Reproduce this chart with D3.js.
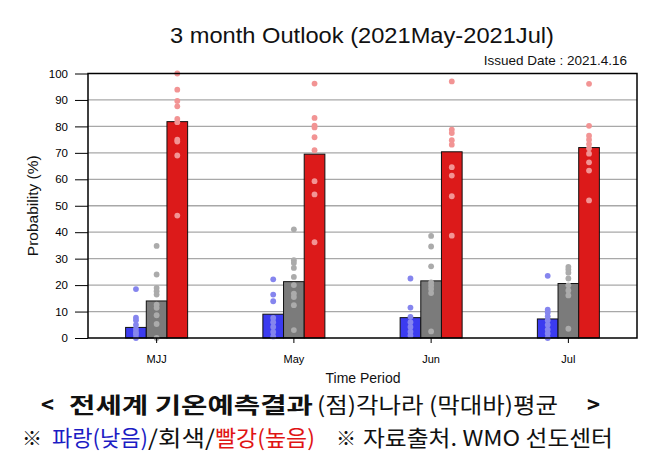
<!DOCTYPE html>
<html><head><meta charset="utf-8">
<script src="https://cdn.jsdelivr.net/npm/d3@7"></script>
<style>body{margin:0;background:#fff}svg{display:block}</style>
</head><body>
<svg id="c" width="658" height="463"></svg>
<script>
const categories = ["MJJ", "May", "Jun", "Jul"];
const terciles = ["below", "normal", "above"];
const belowMean = [4.0, 9.0, 7.7, 7.2];
const normalMean = [14.0, 21.3, 21.6, 20.6];
const aboveMean = [81.8, 69.5, 70.4, 72.0];
const belowDots = [
  [18.5, 7.7, 6.7, 5, 3.4, 2.2, 1.3, 0],
  [22.2, 16.4, 13.9, 7.6, 6, 4.2, 2.3, 0.6],
  [22.5, 11.5, 8, 6, 4.2, 2.4, 0.9],
  [23.5, 10.7, 9.6, 8.2, 6.7, 5, 3.2, 1.7, 0]
];
const normalDots = [
  [34.8, 24, 18.9, 17.7, 16.4, 12.6, 11.4, 8.6, 5.3, 0],
  [41.1, 29.4, 28.4, 26.5, 23.1, 20, 16.8, 15.5, 12.4, 3],
  [38.6, 34.6, 27.1, 21, 19.8, 18.5, 17, 2.5],
  [26.9, 25.9, 24.7, 22.5, 19.9, 18, 16.1, 3.5]
];
const aboveDots = [
  [100, 93.9, 89.6, 87.6, 82.8, 81.6, 75, 74.3, 69, 46.3],
  [96.2, 83.2, 80.3, 79.6, 75.9, 71, 59.3, 54.3, 36.2],
  [97, 78.8, 77.5, 74.8, 73.1, 64.6, 61.4, 53.6, 38.7],
  [96.1, 80.2, 76.5, 75, 73.3, 71.7, 69.7, 66.4, 63.3, 52]
];
const yTicks = [0, 10, 20, 30, 40, 50, 60, 70, 80, 90, 100];

const barColor = {below: "#3b3bf0", normal: "#7b7b7b", above: "#dc1a1a"};
const dotColor = {below: "#8585ee", normal: "#ababab", above: "#f29494"};
const means = {below: belowMean, normal: normalMean, above: aboveMean};
const dots = {below: belowDots, normal: normalDots, above: aboveDots};

const svg = d3.select("#c");
const L = 88, R = 637, T = 73.5, B = 338;
const x0 = d3.scaleBand().domain(categories).range([L, R]).padding(0);
const groupW = 62;
const x1 = d3.scaleBand().domain(terciles).range([0, groupW]).padding(0);
const y = d3.scaleLinear().domain([0, 100]).range([B, T]);
const cx = c => x0(c) + x0.bandwidth() / 2;

const font = "'Liberation Sans', Arial, Helvetica, sans-serif";
const kfont = "'Noto Sans CJK KR', sans-serif";

// grid
svg.append("g").selectAll("line").data(yTicks.filter(t => t > 0 && t < 100)).join("line")
  .attr("x1", L).attr("x2", R).attr("y1", d => y(d)).attr("y2", d => y(d))
  .attr("stroke", "#a8a8a8").attr("stroke-width", 1.3);

// bars
const rows = [];
categories.forEach((c, i) => terciles.forEach(t => rows.push({c, t, v: means[t][i], i})));
svg.append("g").selectAll("rect").data(rows).join("rect")
  .attr("x", d => cx(d.c) - groupW / 2 + x1(d.t))
  .attr("width", x1.bandwidth())
  .attr("y", d => y(d.v)).attr("height", d => y(0) - y(d.v))
  .attr("fill", d => barColor[d.t]).attr("stroke", "#111").attr("stroke-width", 1);

// dots
const pts = [];
categories.forEach((c, i) => terciles.forEach(t => dots[t][i].forEach(v => pts.push({c, t, v}))));
svg.append("g").selectAll("circle").data(pts).join("circle")
  .attr("cx", d => cx(d.c) - groupW / 2 + x1(d.t) + x1.bandwidth() / 2)
  .attr("cy", d => y(d.v)).attr("r", 2.9)
  .attr("fill", d => dotColor[d.t]);

// frame
svg.append("rect").attr("x", L).attr("y", T).attr("width", R - L).attr("height", B - T)
  .attr("fill", "none").attr("stroke", "#000").attr("stroke-width", 1.5);

// y axis
const yAxis = d3.axisLeft(y).tickValues(yTicks).tickSize(13).tickPadding(7);
const gy = svg.append("g").attr("transform", `translate(${L},0)`).call(yAxis);
gy.select(".domain").remove();
gy.selectAll(".tick line").attr("stroke", "#000").attr("stroke-width", 1);
gy.selectAll(".tick text").attr("font-family", font).attr("font-size", 11.5).attr("fill", "#000");

// x axis
const xAxis = d3.axisBottom(x0).tickSize(5).tickPadding(12);
const gx = svg.append("g").attr("transform", `translate(0,${B})`).call(xAxis);
gx.select(".domain").remove();
gx.selectAll(".tick line").attr("stroke", "#000");
gx.selectAll(".tick text").attr("font-family", font).attr("font-size", 11).attr("fill", "#000");

// titles
svg.append("text").attr("x", 362).attr("y", 43).attr("text-anchor", "middle")
  .attr("font-family", font).attr("font-size", 22).attr("fill", "#111")
  .attr("textLength", 384).attr("lengthAdjust", "spacingAndGlyphs")
  .text("3 month Outlook (2021May-2021Jul)");
svg.append("text").attr("x", 627).attr("y", 65).attr("text-anchor", "end")
  .attr("font-family", font).attr("font-size", 13.5).attr("fill", "#111")
  .text("Issued Date : 2021.4.16");
svg.append("text").attr("transform", `translate(38,${(T + B) / 2}) rotate(-90)`)
  .attr("text-anchor", "middle").attr("font-family", font).attr("font-size", 15.5).attr("fill", "#111")
  .text("Probability (%)");
svg.append("text").attr("x", 363).attr("y", 383).attr("text-anchor", "middle")
  .attr("font-family", font).attr("font-size", 14).attr("fill", "#111")
  .text("Time Period");

// Korean captions
function seg(txt, x, yy, len, opts) {
  const t = svg.append("text").attr("x", x).attr("y", yy)
    .attr("font-family", kfont).attr("font-size", opts.size || 22)
    .attr("font-weight", opts.bold ? 700 : 400).attr("fill", opts.color || "#111").text(txt);
  if (len) t.attr("textLength", len).attr("lengthAdjust", "spacingAndGlyphs");
}
seg("<", 41, 413, 0, {bold: true});
seg("전세계  기온예측결과", 69, 413, 244, {bold: true});
seg("(점)각나라  (막대바)평균", 317, 413, 241, {});
seg(">", 587, 413, 0, {bold: true});
seg("※", 22, 446, 0, {size: 20});
seg("파랑(낮음)", 52, 446, 96, {color: "#1c1cc4"});
seg("/회색/", 148, 446, 67, {});
seg("빨강(높음)", 215, 446, 100, {color: "#e01414"});
seg("※", 336, 446, 0, {size: 20});
seg("자료출처. WMO 선도센터", 363, 446, 250, {});
</script>
</body></html>
